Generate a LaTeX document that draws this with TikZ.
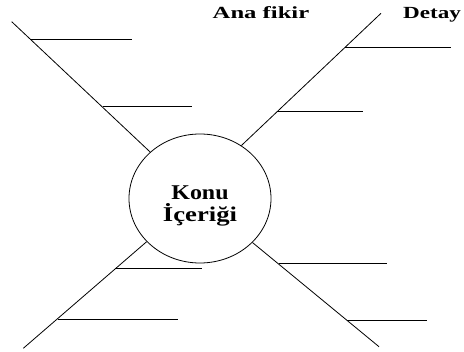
\documentclass[tikz,border=0pt]{standalone}
\usepackage{fontspec}
\setmainfont{Liberation Serif}
\usepackage{tikz}
\usetikzlibrary{shapes.geometric}

\begin{document}
\begin{tikzpicture}[x=1pt,y=-1pt,line width=0.8pt,font=\bfseries]
            \tikzstyle{topic node}=[ellipse,draw,minimum width=142,minimum height=129,inner sep=0]
            \tikzstyle{head text}=[anchor=base,inner sep=0,font=\bfseries\fontsize{17}{20}\selectfont]
            \useasboundingbox (0,0) rectangle (464,352);
            \node(konu)[topic node] at (200,198.5){};
            \node(konu text)[anchor=base,inner sep=0,align=center,font=\bfseries\fontsize{21}{22}\selectfont] at (200,222){\scalebox{1.14}[1]{Konu}\\\scalebox{1.27}[1]{İçeriği}};
            \node(ana)[head text] at (261,18.5){\scalebox{1.45}[1]{Ana fikir}};
            \node(detay)[head text] at (432,18.3){\scalebox{1.36}[1]{Detay}};
            \coordinate (tl) at (11.7,21.7);
            \coordinate (tr) at (381,13.3);
            \coordinate (bl) at (23.3,348.3);
            \coordinate (br) at (379,346.7);
            \coordinate (tl1) at (30,39.3);    \coordinate (tl1e) at (132,39.3);
            \coordinate (tl2) at (102.7,106.7); \coordinate (tl2e) at (192.3,106.7);
            \coordinate (tr1) at (345,47.3);   \coordinate (tr1e) at (451,47.3);
            \coordinate (tr2) at (276.7,111.8); \coordinate (tr2e) at (363.3,111.8);
            \coordinate (bl1) at (115,268.8);  \coordinate (bl1e) at (202.3,268.8);
            \coordinate (bl2) at (57.7,319.5); \coordinate (bl2e) at (178.3,319.5);
            \coordinate (br1) at (279,263.5);  \coordinate (br1e) at (386.7,263.5);
            \coordinate (br2) at (346.7,320.5); \coordinate (br2e) at (427.3,320.5);
            \draw (tl) -- (konu.137);
            \draw (tr) -- (konu.52.7);
            \draw (bl) -- (konu.219);
            \draw (br) -- (konu.320);
            \draw (tl1) -- (tl1e);
            \draw (tl2) -- (tl2e);
            \draw (tr1) -- (tr1e);
            \draw (tr2) -- (tr2e);
            \draw (bl1) -- (bl1e);
            \draw (bl2) -- (bl2e);
            \draw (br1) -- (br1e);
            \draw (br2) -- (br2e);
\end{tikzpicture}
\end{document}
